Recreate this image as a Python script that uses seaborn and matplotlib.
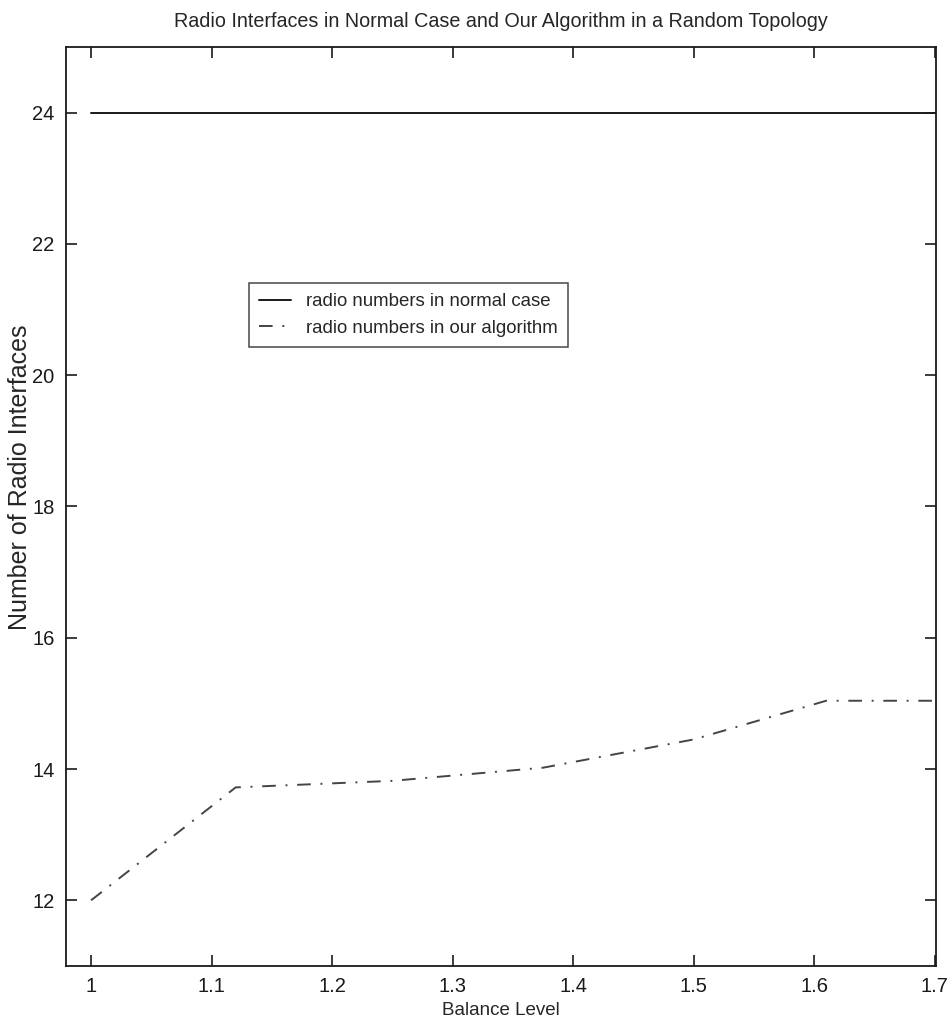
import numpy as np
import pandas as pd
import matplotlib
matplotlib.use("Agg")
import matplotlib.pyplot as plt
import seaborn as sns

# data
balance_normal = [1.0, 1.7]
radios_normal = [24, 24]

balance_algo = [1.0, 1.12, 1.25, 1.375, 1.5, 1.61, 1.7]
radios_algo = [12.0, 13.72, 13.82, 14.02, 14.45, 15.04, 15.04]

x_ticks = [1, 1.1, 1.2, 1.3, 1.4, 1.5, 1.6, 1.7]
x_ticklabels = ["1", "1.1", "1.2", "1.3", "1.4", "1.5", "1.6", "1.7"]
y_ticks = [12, 14, 16, 18, 20, 22, 24]

sns.set_style("ticks")
narrow = ["Liberation Sans Narrow", "Liberation Sans", "DejaVu Sans"]
plt.rcParams["font.family"] = narrow

fig = plt.figure(figsize=(9.53, 10.35), dpi=100)
ax = fig.add_axes([0.069, 0.0667, 0.913, 0.888])

df_normal = pd.DataFrame({"x": balance_normal, "y": radios_normal})
df_algo = pd.DataFrame({"x": balance_algo, "y": radios_algo})

sns.lineplot(data=df_normal, x="x", y="y", ax=ax, color="#1a1a1a", lw=1.4,
             label="radio numbers in normal case")
sns.lineplot(data=df_algo, x="x", y="y", ax=ax, color="#444444", lw=1.4,
             label="radio numbers in our algorithm")
ax.lines[1].set_dashes([7, 5, 1, 5])

ax.set_xlim(0.979, 1.701)
ax.set_ylim(11, 25)
ax.set_xticks(x_ticks)
ax.set_xticklabels(x_ticklabels)
ax.set_yticks(y_ticks)

for s in ax.spines.values():
    s.set_visible(True)
    s.set_linewidth(1.3)
    s.set_color("#1a1a1a")

ax.tick_params(direction="in", length=8, width=1.2, labelsize=14.5, colors="#1a1a1a",
               top=True, right=True, pad=8)

ax.set_xlabel("Balance Level", fontsize=13.5, labelpad=4)
ax.set_ylabel("Number of Radio Interfaces", fontsize=18, labelpad=4,
              family=["Liberation Sans", "DejaVu Sans"])
ax.yaxis.set_label_coords(-0.039, 0.532)
ax.set_title("Radio Interfaces in Normal Case and Our Algorithm in a Random Topology",
             fontsize=14.2, pad=14)

leg = ax.legend(loc="upper left", bbox_to_anchor=(0.2, 0.753), fontsize=13.4,
                frameon=True, fancybox=False, edgecolor="#1a1a1a",
                handlelength=1.7, borderpad=0.55, labelspacing=0.5,
                handletextpad=0.8)
leg.get_frame().set_linewidth(1.1)

fig.savefig("out.png", dpi=100)
